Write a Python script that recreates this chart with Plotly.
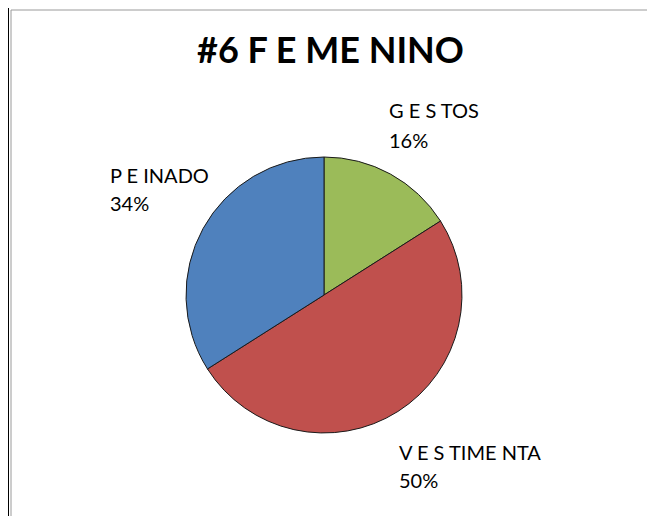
import plotly.graph_objects as go

W, H = 655, 516

labels = ["G E S TOS", "V E S TIME NTA", "P E INADO"]
values = [16, 50, 34]
colors = ["#9BBB59", "#C0504D", "#4F81BD"]
title_text = "#6 F E ME NINO"

# label anchor positions (page pixels): left x, name-line centre y, percent-line centre y
label_pos = [(387, 110, 140), (397, 452, 480), (108, 175, 203)]

# the page body adds an offset around the figure
OX, OY = 8, 8


def px(x):
    return (x - OX) / W


def py(y):
    return 1 - (y - OY) / H


cx, cy, r = 324, 295, 138

fig = go.Figure()
fig.add_trace(go.Pie(
    labels=labels,
    values=values,
    sort=False,
    direction="clockwise",
    rotation=0,
    marker=dict(colors=colors, line=dict(color="#1a1a1a", width=1)),
    textinfo="none",
    hoverinfo="label+percent",
    showlegend=False,
    domain=dict(x=[px(cx - r), px(cx + r)], y=[py(cy + r), py(cy - r)]),
))

total = sum(values)
font_family = "Lato, Carlito, Open Sans, sans-serif"
annotations = [dict(
    text="<b>" + title_text + "</b>",
    x=px(330), y=py(49), xref="paper", yref="paper",
    xanchor="center", yanchor="middle", showarrow=False,
    font=dict(family=font_family, size=36, color="#000000"),
)]
for lab, val, (lx, ly1, ly2) in zip(labels, values, label_pos):
    for txt, yy in ((lab, ly1), (f"{round(val / total * 100)}%", ly2)):
        annotations.append(dict(
            text=txt,
            x=px(lx), y=py(yy), xref="paper", yref="paper",
            xanchor="left", yanchor="middle", align="left", showarrow=False,
            font=dict(family=font_family, size=20, color="#000000"),
        ))

shapes = [
    dict(type="rect", xref="paper", yref="paper",
         x0=px(8), x1=px(W + 30), y0=py(H + 30), y1=py(7),
         line=dict(color="#000000", width=2), fillcolor="rgba(0,0,0,0)"),
    dict(type="rect", xref="paper", yref="paper",
         x0=px(11), x1=px(W + 30), y0=py(H + 30), y1=py(10),
         line=dict(color="#9a9a9a", width=1), fillcolor="rgba(0,0,0,0)"),
]

fig.update_layout(
    width=W, height=H,
    margin=dict(l=0, r=0, t=0, b=0),
    paper_bgcolor="#FFFFFF",
    plot_bgcolor="#FFFFFF",
    annotations=annotations,
    shapes=shapes,
)

fig.write_html("out.html")
